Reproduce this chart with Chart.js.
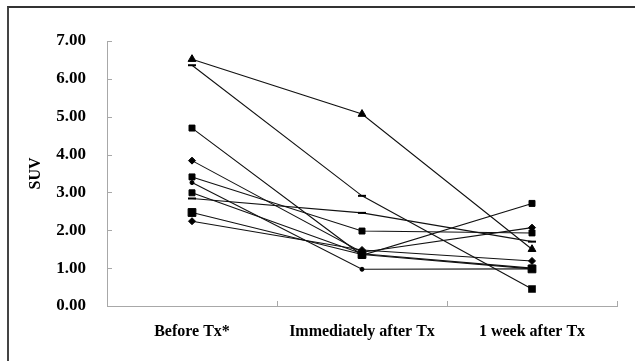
<!DOCTYPE html>
<html>
<head>
<meta charset="utf-8">
<script src="https://cdn.jsdelivr.net/npm/chart.js@4"></script>
<style>
  html, body { margin: 0; padding: 0; background: #fff; }
  #wrap { position: relative; width: 635px; height: 361px; overflow: hidden; }
  #wrap canvas { position: absolute; left: 0; top: 0; }
  #frame { position: absolute; left: 7px; top: 6px; width: 640px; height: 400px;
           border-top: 2px solid #333; border-left: 2px solid #444; }
</style>
</head>
<body>
<div id="wrap">
  <canvas id="suvChart" width="635" height="361"></canvas>
  <div id="frame"></div>
</div>
<script>
const categories = ["Before Tx*", "Immediately after Tx", "1 week after Tx"];
const yTicks = [0, 1, 2, 3, 4, 5, 6, 7];

// SUV per patient at the three time points
const patientA = [6.52, 5.07, 1.50];
const patientB = [6.36, 2.91, 0.45];
const patientC = [4.70, 1.34, 2.71];
const patientD = [3.84, 1.42, 2.07];
const patientE = [3.41, 1.98, 1.93];
const patientF = [3.26, 0.97, 0.98];
const patientG = [2.99, 1.38, 1.00];
const patientH = [2.84, 2.46, 1.70];
const patientI = [2.47, 1.36, 0.98];
const patientJ = [2.24, 1.48, 1.19];

const serif = '"Liberation Serif", "Times New Roman", serif';

function series(data, style, radius, borderWidth) {
  return {
    data: data,
    borderColor: "#111",
    borderWidth: 1.1,
    pointStyle: style,
    pointRadius: radius,
    pointBackgroundColor: "#000",
    pointBorderColor: "#000",
    pointBorderWidth: borderWidth || 1,
    tension: 0,
    fill: false
  };
}

const innerTicks = {
  id: "innerTicks",
  afterDraw(chart) {
    const { ctx, chartArea: a, scales: { x, y } } = chart;
    ctx.save();
    ctx.strokeStyle = "#a8a8a8";
    ctx.lineWidth = 1;
    ctx.beginPath();
    yTicks.forEach(v => {
      const py = Math.round(y.getPixelForValue(v)) + 0.5;
      ctx.moveTo(a.left, py);
      ctx.lineTo(a.left + 5, py);
    });
    for (let i = 1; i <= categories.length; i++) {
      const px = Math.round(x.getPixelForValue(i - 0.5)) + 0.5;
      ctx.moveTo(px, a.bottom);
      ctx.lineTo(px, a.bottom - 5);
    }
    ctx.stroke();
    ctx.restore();
  }
};

const ctx = document.getElementById("suvChart").getContext("2d");
new Chart(ctx, {
  type: "line",
  data: {
    labels: categories,
    datasets: [
      series(patientA, "triangle", 4.5),
      series(patientB, ["line", "line", "rect"], [4, 4, 4], 2),
      series(patientC, "rect", 4.2),
      series(patientD, "rectRot", 3.5),
      series(patientE, "rect", 4.2),
      series(patientF, "circle", 2),
      series(patientG, "rect", 4.2),
      series(patientH, "line", 4, 2),
      series(patientI, "rect", 5.5),
      series(patientJ, "rectRot", 3.5)
    ]
  },
  options: {
    responsive: false,
    animation: false,
    layout: { padding: { left: 0, top: 41, right: 18, bottom: 0 } },
    plugins: { legend: { display: false }, tooltip: { enabled: false } },
    scales: {
      x: {
        type: "category",
        offset: true,
        grid: { display: false, drawTicks: false },
        border: { display: true, color: "#a8a8a8", width: 1 },
        ticks: {
          color: "#000",
          padding: 16,
          maxRotation: 0,
          font: { family: serif, size: 16, weight: "bold" }
        },
        afterFit(scale) { scale.height = 55; }
      },
      y: {
        min: 0,
        max: 7,
        grid: { display: false, drawTicks: false },
        border: { display: true, color: "#a8a8a8", width: 1 },
        ticks: {
          stepSize: 1,
          color: "#000",
          padding: 21,
          font: { family: serif, size: 17, weight: "bold" },
          callback: v => v.toFixed(2)
        },
        title: {
          display: true,
          text: "SUV",
          color: "#000",
          padding: { top: 26, bottom: 0 },
          font: { family: serif, size: 16, weight: "bold" }
        },
        afterFit(scale) { scale.width = 107; }
      }
    }
  },
  plugins: [innerTicks]
});
</script>
</body>
</html>
